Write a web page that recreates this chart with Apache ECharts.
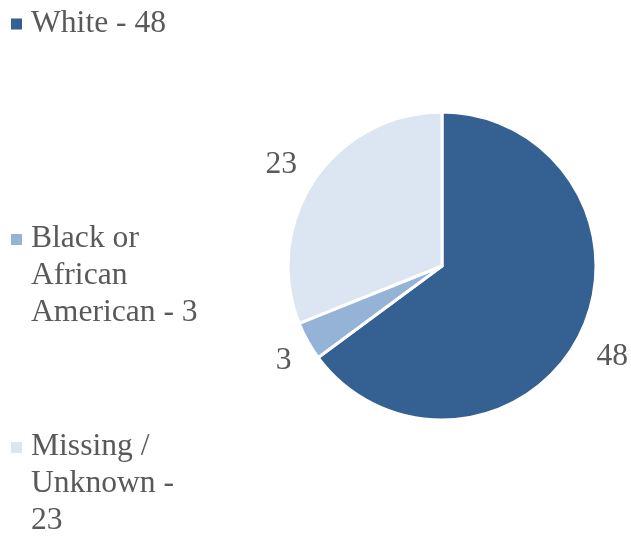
<!DOCTYPE html>
<html>
<head>
<meta charset="utf-8">
<script src="https://cdn.jsdelivr.net/npm/echarts@6/dist/echarts.min.js"></script>
<style>html,body{margin:0;padding:0;background:#fff}#c{width:631px;height:536px}</style>
</head>
<body>
<div id="c"></div>
<script>
const categories = ['White', 'Black or African American', 'Missing / Unknown'];
const values = [48, 3, 23];
const colors = ['#356092', '#95B3D7', '#DCE6F2'];
// small per-label nudges (pixels) to follow the reference's best-fit label placement
const labelNudges = [[-3, 3], [11, 0], [0, 7]];

const FONT = "'Liberation Serif', 'Times New Roman', serif";
const TXT = '#595959';
const FS = 31.6;
const LH = 37;
const data = categories.map((c, i) => ({ name: c + ' - ' + values[i], value: values[i], itemStyle: { color: colors[i] } }));

function legendFor(i, top, lines) {
  const h = lines * LH;
  const c = LH / 2;
  const icon = lines === 1 ? 'rect'
    : 'path://M0,0h0.01M0,' + (c - 5) + 'h11v11h-11zM0,' + h + 'h0.01';
  return {
    orient: 'vertical', left: 11, top: top, padding: 0,
    icon: icon, itemWidth: 11, itemHeight: lines === 1 ? 11 : h,
    selectedMode: false,
    itemStyle: { borderWidth: 0 },
    data: [data[i].name],
    textStyle: {
      fontFamily: FONT, fontSize: FS, color: TXT, lineHeight: LH,
      width: 175, overflow: 'break', padding: [0, 0, 0, 4]
    }
  };
}

const chart = echarts.init(document.getElementById('c'), null, { renderer: 'canvas' });
chart.setOption({
  animation: false,
  legend: [
    legendFor(0, 5.5, 1),
    legendFor(1, 220.5, 3),
    legendFor(2, 428.5, 3)
  ],
  series: [
    {
      type: 'pie', center: [442, 266], radius: [0, 154],
      startAngle: 90, clockwise: true,
      itemStyle: { borderColor: '#fff', borderWidth: 3 },
      label: { show: false }, labelLine: { show: false },
      emphasis: { disabled: true },
      data: data
    },
    {
      type: 'pie', center: [442, 266], radius: [0, 382],
      startAngle: 90, clockwise: true, silent: true,
      itemStyle: { color: 'rgba(0,0,0,0)', borderWidth: 0 },
      label: {
        show: true, position: 'inside', formatter: p => String(p.value),
        fontFamily: FONT, fontSize: FS, color: TXT
      },
      labelLine: { show: false },
      emphasis: { disabled: true },
      data: data.map((d, i) => ({ name: d.name, value: d.value, label: { offset: labelNudges[i] } }))
    }
  ]
});
</script>
</body>
</html>
